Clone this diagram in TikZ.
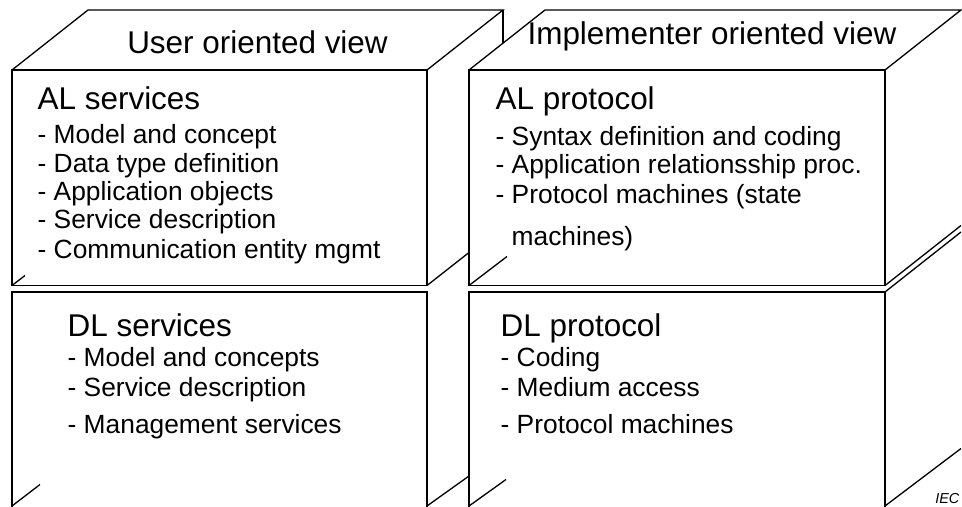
\documentclass[tikz,border=0pt]{standalone}
\usepackage{fontspec}
\setmainfont{Liberation Sans}
\usepackage{tikz}

\tikzset{
  viewtitle/.style={font=\fontsize{17.9}{21}\selectfont, anchor=base, inner sep=0pt},
  layerhead/.style={font=\fontsize{17.9}{21}\selectfont, anchor=base west, inner sep=0pt},
  layeritem/.style={font=\fontsize{15}{18}\selectfont, anchor=base west, inner sep=0pt},
}

\begin{document}
\begin{tikzpicture}[line width=0.75pt]

    \useasboundingbox (0,0) rectangle (19.24,10.12);
    \clip (0,0) rectangle (19.24,10.12);

    % Left block: top face and hidden back edge
    \draw (0.24,8.72) -- ++(1.52,1.2) -- (10.06,9.92) -- (8.54,8.72);
    \draw (10.06,9.92) -- (10.06,9.26);

    % Left block: front faces
    \draw (0.24,4.41) rectangle (8.54,8.72);
    \draw (0.24,-0.2) rectangle (8.54,4.28);
    \draw (8.54,4.41) -- (9.38,5.07);
    \draw (8.54,0) -- (9.38,0.6);
    \draw (0.24,4.41) -- ++(0.26,0.2);
    \draw (0.24,0) -- ++(0.56,0.43);

    % Right block: top face
    \draw (9.38,8.72) -- ++(1.52,1.2) -- (19.22,9.92) -- (17.70,8.72);

    % Right block: front faces and side
    \draw (9.38,4.41) rectangle (17.70,8.72);
    \draw (9.38,-0.2) rectangle (17.70,4.28);
    \draw (17.70,4.41) -- ++(1.52,1.2);
    \draw (17.70,4.28) -- ++(1.52,1.2);
    \draw (17.70,0) -- ++(1.52,1.15);
    \draw (9.38,4.41) -- ++(0.76,0.58);
    \draw (9.38,0) -- ++(0.74,0.53);

    % View titles
    \node[viewtitle] (userview) at (5.15,9.06) {User oriented view};
    \node[viewtitle] (implview) at (14.24,9.22) {Implementer oriented view};

    % AL services
    \node[layerhead] (alsvc) at (0.74,7.94) {AL services};
    \foreach \i/\y/\txt in {1/7.26/Model and concept, 2/6.68/Data type definition,
        3/6.12/Application objects, 4/5.56/Service description,
        5/4.96/Communication entity mgmt}
      \node[layeritem] (alsvc\i) at (0.74,\y) {- \txt};

    % AL protocol
    \node[layerhead] (alprot) at (9.90,7.94) {AL protocol};
    \foreach \i/\y/\txt in {1/7.22/Syntax definition and coding,
        2/6.66/Application relationsship proc., 3/6.06/Protocol machines (state}
      \node[layeritem] (alprot\i) at (9.90,\y) {- \txt};
    \node[layeritem] (alprot4) at (10.22,5.22) {machines)};

    % DL services
    \node[layerhead] (dlsvc) at (1.34,3.40) {DL services};
    \foreach \i/\y/\txt in {1/2.80/Model and concepts, 2/2.20/Service description,
        3/1.46/Management services}
      \node[layeritem] (dlsvc\i) at (1.34,\y) {- \txt};

    % DL protocol
    \node[layerhead] (dlprot) at (10.0,3.40) {DL protocol};
    \foreach \i/\y/\txt in {1/2.80/Coding, 2/2.20/Medium access, 3/1.46/Protocol machines}
      \node[layeritem] (dlprot\i) at (10.0,\y) {- \txt};

    % Source mark
    \node[anchor=base east, inner sep=0pt, font=\fontsize{8.2}{10}\selectfont\itshape]
      (iec) at (19.20,0.06) {IEC};

\end{tikzpicture}
\end{document}
